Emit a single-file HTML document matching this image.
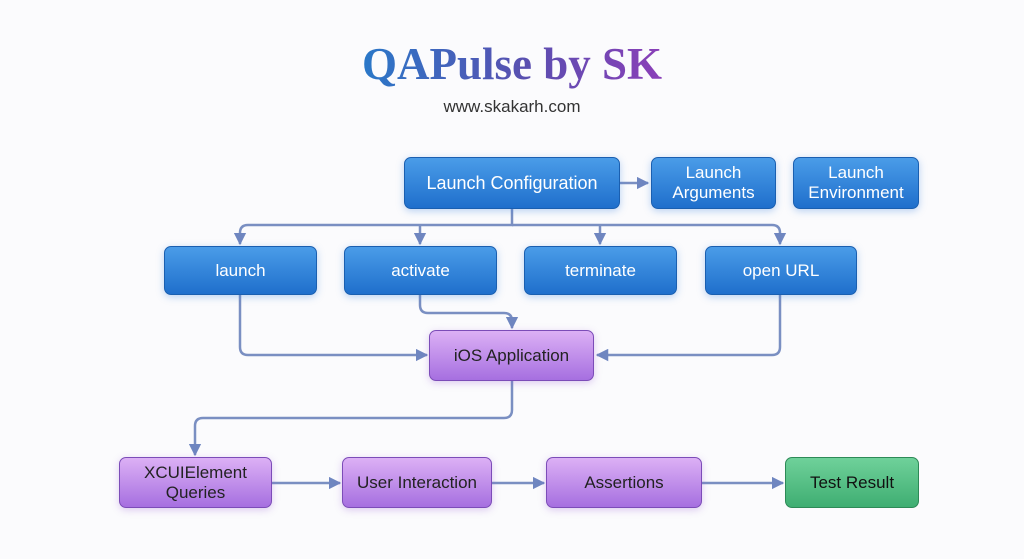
<!DOCTYPE html>
<html><head><style>
body{margin:0;width:1024px;height:559px;background:#fbfbfd;font-family:"Liberation Sans",sans-serif;position:relative;overflow:hidden}
.t{position:absolute;left:0;width:1024px;text-align:center}
.b{position:absolute;box-sizing:border-box;border-radius:7px;display:flex;align-items:center;justify-content:center;text-align:center;font-size:17px;line-height:20px}
.bl{background:linear-gradient(#4a9ce8,#1f6fcc);border:1.5px solid #1a5fb0;color:#fff;box-shadow:0 2px 8px rgba(60,130,220,.35)}
.pu{background:linear-gradient(#dcb0f5,#a66fe0);border:1.5px solid #7c4cb8;color:#222;box-shadow:0 2px 8px rgba(150,90,210,.3)}
.gr{background:linear-gradient(#6fd19a,#3fae72);border:1.5px solid #2d8a57;color:#111}
</style></head><body>
<div class="t" style="top:38px;font-family:'Liberation Serif',serif;font-size:45px;font-weight:bold;"><span style="background:linear-gradient(90deg,#2a78c8,#5a4fb0 55%,#8a3fb8);-webkit-background-clip:text;background-clip:text;color:transparent">QAPulse by SK</span></div>
<div class="t" style="top:97px;font-size:17px;color:#333">www.skakarh.com</div>
<svg width="1024" height="559" style="position:absolute;left:0;top:0">
<defs><marker id="a" viewBox="0 0 10 10" refX="9" refY="5" markerWidth="5" markerHeight="5" orient="auto"><path d="M0,0L10,5L0,10z" fill="#6f86c0"/></marker></defs>
<g fill="none" stroke="#7a8fc2" stroke-width="2.5" marker-end="url(#a)">
<path d="M620,183H648"/>
<path d="M512,209V225H248q-8,0-8,8V244"/>
<path d="M420,225V244"/>
<path d="M600,225V244"/>
<path d="M512,225H772q8,0,8,8V244"/>
<path d="M240,295V347q0,8,8,8H427"/>
<path d="M420,295V305q0,8,8,8H504q8,0,8,8V328"/>
<path d="M780,295V347q0,8-8,8H597"/>
<path d="M512,381V410q0,8-8,8H203q-8,0-8,8V455"/>
<path d="M272,483H340"/>
<path d="M492,483H544"/>
<path d="M702,483H783"/>
</g></svg>
<div class="b bl" style="left:404px;top:157px;width:216px;height:52px;font-size:18px">Launch Configuration</div>
<div class="b bl" style="left:651px;top:157px;width:125px;height:52px">Launch<br>Arguments</div>
<div class="b bl" style="left:793px;top:157px;width:126px;height:52px">Launch<br>Environment</div>
<div class="b bl" style="left:164px;top:246px;width:153px;height:49px">launch</div>
<div class="b bl" style="left:344px;top:246px;width:153px;height:49px">activate</div>
<div class="b bl" style="left:524px;top:246px;width:153px;height:49px">terminate</div>
<div class="b bl" style="left:705px;top:246px;width:152px;height:49px">open URL</div>
<div class="b pu" style="left:429px;top:330px;width:165px;height:51px">iOS Application</div>
<div class="b pu" style="left:119px;top:457px;width:153px;height:51px">XCUIElement<br>Queries</div>
<div class="b pu" style="left:342px;top:457px;width:150px;height:51px">User Interaction</div>
<div class="b pu" style="left:546px;top:457px;width:156px;height:51px">Assertions</div>
<div class="b gr" style="left:785px;top:457px;width:134px;height:51px">Test Result</div>
</body></html>
